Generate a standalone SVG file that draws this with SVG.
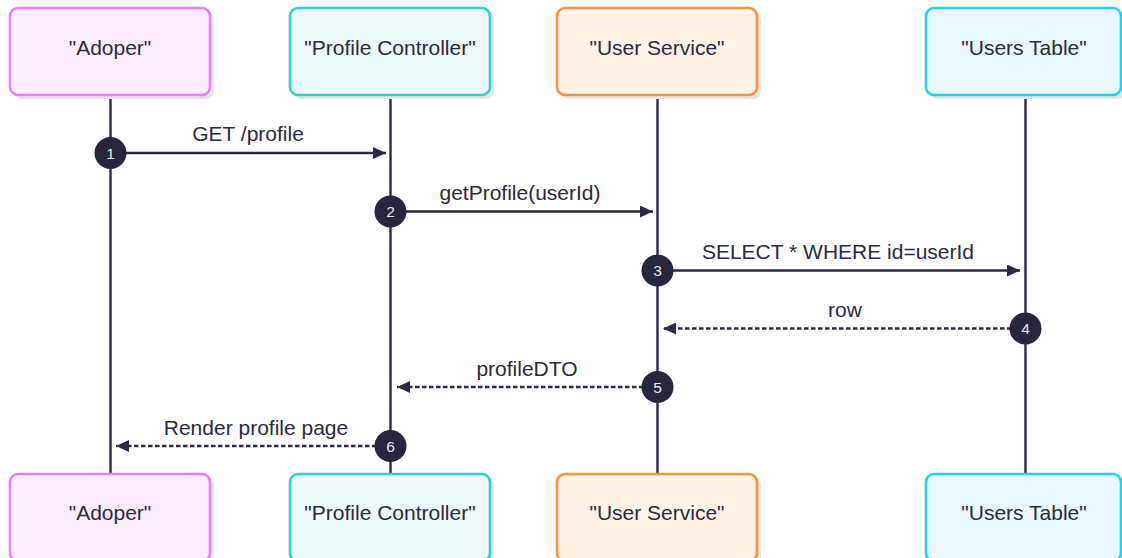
<svg xmlns="http://www.w3.org/2000/svg" width="1122" height="558" viewBox="0 0 1122 558">
<defs>
<marker id="ah" viewBox="0 0 13 12" refX="13" refY="6" markerWidth="13" markerHeight="12" markerUnits="userSpaceOnUse" orient="auto">
<path d="M0,0 L13,6 L0,12 Z" fill="#2b2a40"/>
</marker>
<style>
.box{stroke-width:2.6}
.shadow{fill:#e6e6e6}
.lbl{font-family:"Liberation Sans",Arial,sans-serif;font-size:21px;fill:#2b2a40;text-anchor:middle}
.life{stroke:#2b2a40;stroke-width:2.4}
.msg{stroke:#2b2a40;stroke-width:2.4;fill:none;marker-end:url(#ah)}
.dash{stroke-dasharray:4.5 2.5}
.num{fill:#27263d}
.numt{font-family:"Liberation Sans",Arial,sans-serif;font-size:15.5px;fill:#e8e8ee;text-anchor:middle}
</style>
</defs>
<rect width="1122" height="558" fill="#ffffff"/>
<g id="lifelines">
<line class="life" x1="110.5" y1="95" x2="110.5" y2="474"/>
<line class="life" x1="390.5" y1="95" x2="390.5" y2="474"/>
<line class="life" x1="657.5" y1="95" x2="657.5" y2="474"/>
<line class="life" x1="1025.5" y1="95" x2="1025.5" y2="474"/>
</g>
<g id="p-adoper-top">
<rect class="shadow" x="14" y="12" width="200" height="87" rx="8"/>
<rect class="box" x="10" y="8" width="200" height="87" rx="8" fill="#fbedfd" stroke="#e97ef5"/>
<text class="lbl" x="110" y="55">"Adoper"</text>
</g>
<g id="p-controller-top">
<rect class="shadow" x="294" y="12" width="200" height="87" rx="8"/>
<rect class="box" x="290" y="8" width="200" height="87" rx="8" fill="#eff8f9" stroke="#2dd4bf"/>
<text class="lbl" x="390" y="55">"Profile Controller"</text>
</g>
<g id="p-service-top">
<rect class="shadow" x="561" y="12" width="200" height="87" rx="8"/>
<rect class="box" x="557" y="8" width="200" height="87" rx="8" fill="#fff3e9" stroke="#fb923c"/>
<text class="lbl" x="657" y="55">"User Service"</text>
</g>
<g id="p-table-top">
<rect class="shadow" x="930" y="12" width="196" height="87" rx="8"/>
<rect class="box" x="926" y="8" width="195" height="87" rx="8" fill="#eaf8fe" stroke="#22d3ee"/>
<text class="lbl" x="1024" y="55">"Users Table"</text>
</g>
<g id="p-adoper-bottom">
<rect class="shadow" x="14" y="478" width="200" height="87" rx="8"/>
<rect class="box" x="10" y="474" width="200" height="87" rx="8" fill="#fbedfd" stroke="#e97ef5"/>
<text class="lbl" x="110" y="520">"Adoper"</text>
</g>
<g id="p-controller-bottom">
<rect class="shadow" x="294" y="478" width="200" height="87" rx="8"/>
<rect class="box" x="290" y="474" width="200" height="87" rx="8" fill="#eff8f9" stroke="#2dd4bf"/>
<text class="lbl" x="390" y="520">"Profile Controller"</text>
</g>
<g id="p-service-bottom">
<rect class="shadow" x="561" y="478" width="200" height="87" rx="8"/>
<rect class="box" x="557" y="474" width="200" height="87" rx="8" fill="#fff3e9" stroke="#fb923c"/>
<text class="lbl" x="657" y="520">"User Service"</text>
</g>
<g id="p-table-bottom">
<rect class="shadow" x="930" y="478" width="196" height="87" rx="8"/>
<rect class="box" x="926" y="474" width="195" height="87" rx="8" fill="#eaf8fe" stroke="#22d3ee"/>
<text class="lbl" x="1024" y="520">"Users Table"</text>
</g>
<g id="connectors">
<line class="msg" x1="110.5" y1="153" x2="386" y2="153"/>
<line class="msg" x1="390.5" y1="211.5" x2="653" y2="211.5"/>
<line class="msg" x1="657.5" y1="270.5" x2="1020" y2="270.5"/>
<line class="msg dash" x1="1025.5" y1="328.5" x2="663" y2="328.5"/>
<line class="msg dash" x1="657.5" y1="387" x2="397" y2="387"/>
<line class="msg dash" x1="390.5" y1="446" x2="116" y2="446"/>
<text class="lbl" x="248" y="141">GET /profile</text>
<text class="lbl" x="520" y="200">getProfile(userId)</text>
<text class="lbl" x="838" y="259">SELECT * WHERE id=userId</text>
<text class="lbl" x="845" y="317">row</text>
<text class="lbl" x="527" y="376">profileDTO</text>
<text class="lbl" x="256" y="435">Render profile page</text>
</g>
<g id="step-1"><circle class="num" cx="110.5" cy="153" r="16"/><text class="numt" x="110.5" y="158.5">1</text></g>
<g id="step-2"><circle class="num" cx="390.5" cy="211.5" r="16"/><text class="numt" x="390.5" y="217">2</text></g>
<g id="step-3"><circle class="num" cx="657.5" cy="270.5" r="16"/><text class="numt" x="657.5" y="276">3</text></g>
<g id="step-4"><circle class="num" cx="1025.5" cy="328.5" r="16"/><text class="numt" x="1025.5" y="334">4</text></g>
<g id="step-5"><circle class="num" cx="657.5" cy="387" r="16"/><text class="numt" x="657.5" y="392.5">5</text></g>
<g id="step-6"><circle class="num" cx="390.5" cy="446" r="16"/><text class="numt" x="390.5" y="451.5">6</text></g>
</svg>
